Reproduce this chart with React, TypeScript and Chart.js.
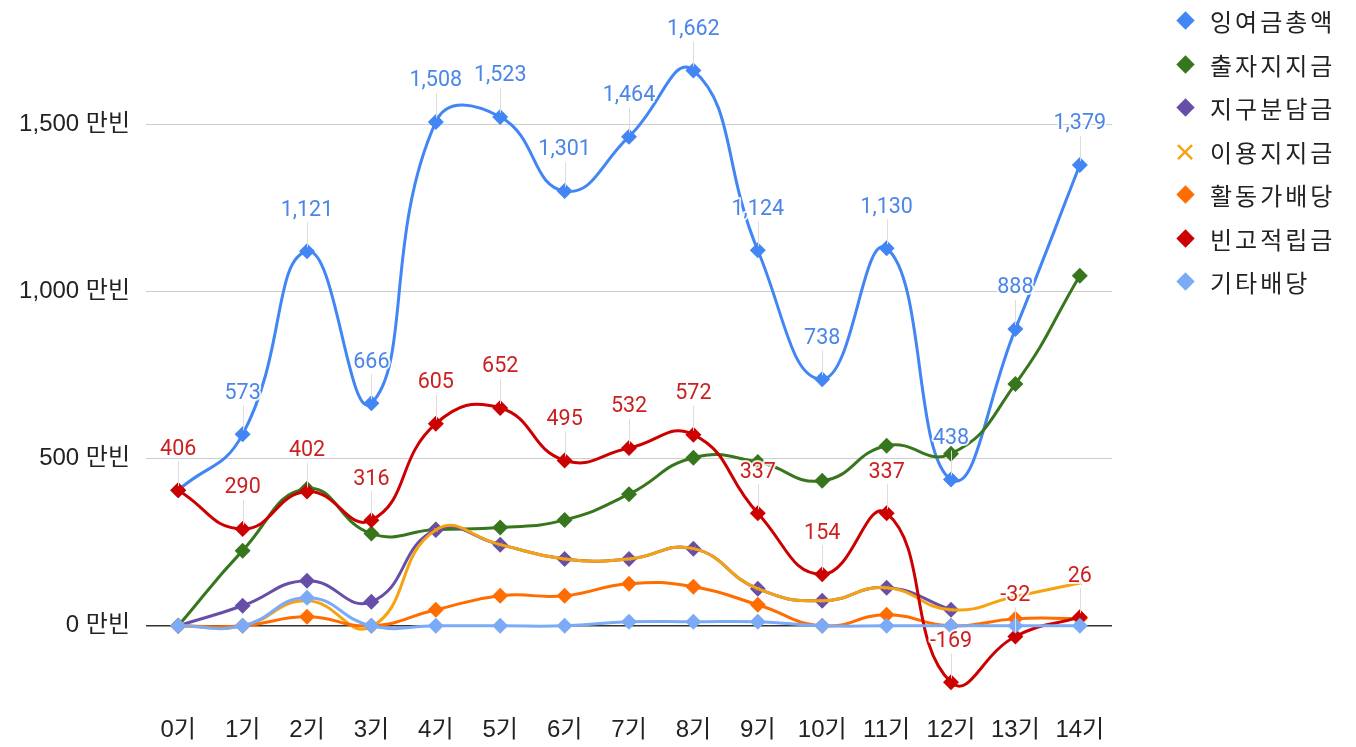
import React, { useEffect, useRef } from "react";
import { Chart, registerables } from "chart.js";

Chart.register(...registerables);

const categories = ["0기", "1기", "2기", "3기", "4기", "5기", "6기", "7기", "8기", "9기", "10기", "11기", "12기", "13기", "14기"];

const surplusTotal = [406, 573, 1121, 666, 1508, 1523, 1301, 1464, 1662, 1124, 738, 1130, 438, 888, 1379];
const investPay = [0, 225, 410, 276, 288, 294, 317, 394, 503, 490, 434, 539, 515, 724, 1048];
const districtShare = [0, 60, 135, 72, 287, 243, 200, 200, 231, 111, 75, 114, 48, null, null];
const usagePay = [0, 0, 75, -3, 287, 243, 200, 200, 231, 111, 75, 114, 48, 88, 128];
const activistDividend = [0, 0, 27, 0, 48, 90, 90, 126, 117, 63, 0, 33, 0, 21, 22];
const reserve = [406, 290, 402, 316, 605, 652, 495, 532, 572, 337, 154, 337, -169, -32, 26];
const otherDividend = [0, 0, 84, 0, 0, 0, 0, 12, 12, 12, 0, 0, 0, 0, 0];

const yTicks = [0, 500, 1000, 1500];

const seriesNames = ["잉여금총액", "출자지지금", "지구분담금", "이용지지금", "활동가배당", "빈고적립금", "기타배당"];
const seriesColors = ["#4285f4", "#38761d", "#674ea7", "#f6a312", "#ff6d01", "#cc0000", "#7baaf7"];
const labelledSeries = [0, 5];
const labelColors = ["#4a86e8", "#cc1f1f"];

const fmt = (v: number) => v.toLocaleString("en-US");

const labelPlugin = {
  id: "pointLabels",
  afterDatasetsDraw(chart: any) {
    const ctx = chart.ctx;
    ctx.save();
    labelledSeries.forEach((di, k) => {
      const meta = chart.getDatasetMeta(di);
      const ds = chart.data.datasets[di];
      meta.data.forEach((pt: any, i: number) => {
        const v = ds.data[i];
        if (v === null || v === undefined) return;
        if (di === 0 && i === 0) return;
        const x = pt.x;
        const y = pt.y;
        const ly = y - 41;
        ctx.strokeStyle = "#dddddd";
        ctx.lineWidth = 1;
        ctx.beginPath();
        ctx.moveTo(Math.round(x) + 0.5, ly + 12);
        ctx.lineTo(Math.round(x) + 0.5, y - 4);
        ctx.stroke();
        ctx.font = "21.5px Roboto, 'Noto Sans'";
        ctx.textAlign = "center";
        ctx.textBaseline = "middle";
        ctx.lineWidth = 4;
        ctx.lineJoin = "round";
        ctx.strokeStyle = "rgba(255,255,255,0.85)";
        ctx.strokeText(fmt(v), x, ly);
        ctx.fillStyle = labelColors[k];
        ctx.fillText(fmt(v), x, ly);
      });
    });
    ctx.restore();
  },
};

const allData = [surplusTotal, investPay, districtShare, usagePay, activistDividend, reserve, otherDividend];

export default function App() {
  const canvasRef = useRef<HTMLCanvasElement>(null);

  useEffect(() => {
    const datasets = allData.map((d, i) => {
      const isUsage = i === 3;
      return {
        label: seriesNames[i],
        data: d,
        borderColor: seriesColors[i],
        backgroundColor: seriesColors[i],
        borderWidth: 3,
        tension: 0.48,
        pointStyle: isUsage ? "crossRot" : "rectRot",
        pointRadius: isUsage ? 3 : 8,
        pointBorderWidth: isUsage ? 1 : 0,
        pointBorderColor: seriesColors[i],
        pointBackgroundColor: seriesColors[i],
        pointHoverRadius: isUsage ? 3 : 8,
        order: 7 - i,
        spanGaps: false,
        clip: false as any,
      };
    });

    const axisFont = { size: 24, family: "'Liberation Sans', 'Noto Sans CJK KR'" };

    const chart = new Chart(canvasRef.current!, {
      type: "line",
      data: { labels: categories, datasets },
      options: {
        animation: false,
        responsive: true,
        maintainAspectRatio: false,
        layout: { padding: { left: 0, right: 244, top: 0, bottom: 0 } },
        plugins: { legend: { display: false }, tooltip: { enabled: false } },
        scales: {
          x: {
            offset: true,
            grid: { display: false, drawTicks: false },
            border: { display: false },
            ticks: {
              padding: 16,
              color: "#222222",
              font: axisFont,
              maxRotation: 0,
              autoSkip: false,
            },
            afterFit: (s: any) => {
              s.height = 47;
              s.paddingLeft = 0;
              s.paddingRight = 0;
            },
          },
          y: {
            min: -222,
            max: 1849,
            afterBuildTicks: (s: any) => {
              s.ticks = yTicks.map((v) => ({ value: v }));
            },
            grid: {
              drawTicks: false,
              color: (c: any) => (c.tick && c.tick.value === 0 ? "#333333" : "#cccccc"),
              lineWidth: (c: any) => (c.tick && c.tick.value === 0 ? 1.5 : 1),
            },
            border: { display: false },
            ticks: {
              padding: 16,
              color: "#222222",
              font: axisFont,
              callback: (v: any) => fmt(Number(v)) + " 만빈",
            },
            afterFit: (s: any) => {
              s.width = 146;
              s.paddingTop = 0;
              s.paddingBottom = 0;
            },
          },
        },
      },
      plugins: [labelPlugin],
    });
    return () => chart.destroy();
  }, []);

  const legendFont = "'Noto Sans CJK KR', 'Noto Sans', sans-serif";

  return (
    <div style={{ position: "fixed", left: 0, top: 0, width: 1356, height: 747, background: "#ffffff" }}>
      <canvas ref={canvasRef} />
      <div style={{ position: "absolute", left: 1170, top: -1, fontFamily: legendFont }}>
        {seriesNames.map((n, i) => (
          <div key={n} style={{ display: "flex", alignItems: "center", height: 43.5 }}>
            <span style={{ width: 30, display: "inline-flex", justifyContent: "center", alignItems: "center", fontSize: 20, color: seriesColors[i] }}>
              {i === 3 ? (
                <span style={{ color: seriesColors[i], fontSize: 24, fontWeight: 700, lineHeight: 1 }}>×</span>
              ) : (
                <span style={{ width: 13, height: 13, background: seriesColors[i], transform: "rotate(45deg)", display: "inline-block" }} />
              )}
            </span>
            <span style={{ marginLeft: 10, fontSize: 24, letterSpacing: 3, color: "#222222" }}>{n}</span>
          </div>
        ))}
      </div>
    </div>
  );
}
